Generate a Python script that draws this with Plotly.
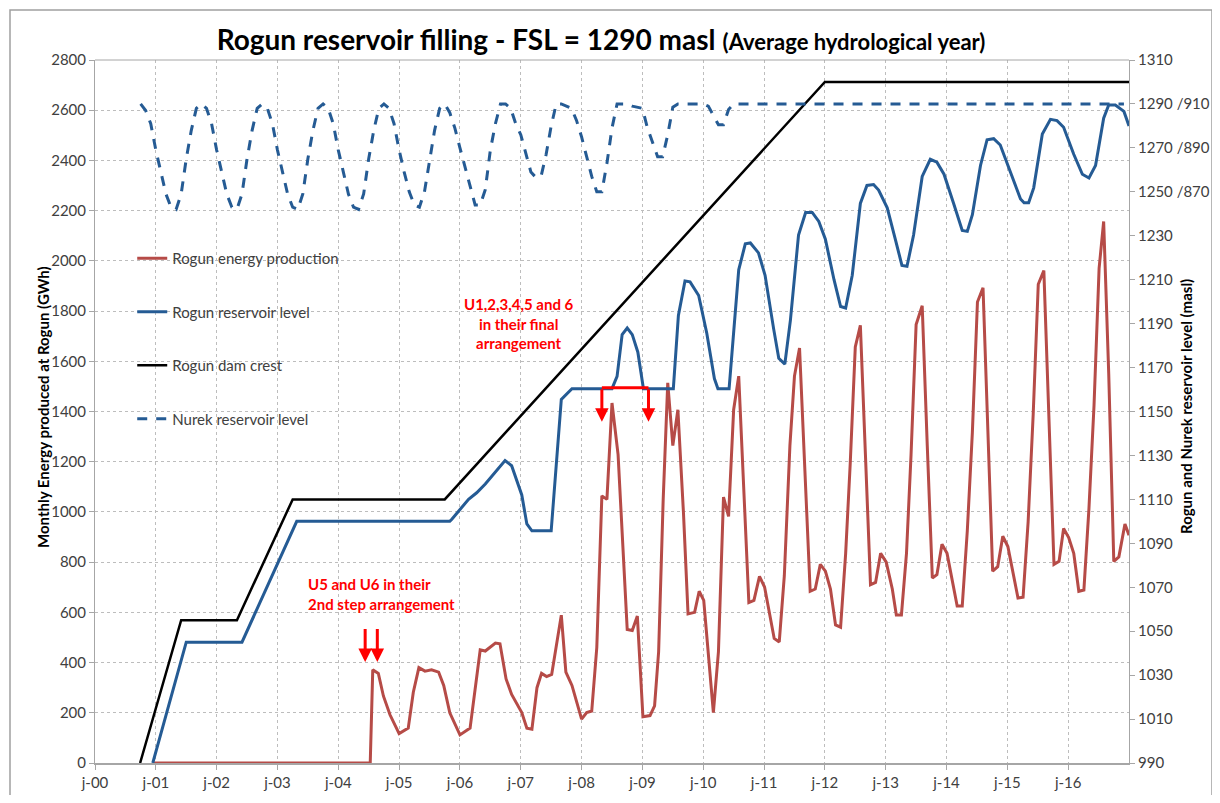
import plotly.graph_objects as go

# ---------------- data (x = months since Jan 2000) ----------------
year_ticks = list(range(0, 204, 12))
year_labels = ["j-00", "j-01", "j-02", "j-03", "j-04", "j-05", "j-06", "j-07", "j-08",
               "j-09", "j-10", "j-11", "j-12", "j-13", "j-14", "j-15", "j-16"]

# Rogun energy production (GWh / month), left axis
energy_months = [11.4, 54.3, 54.8, 55.9, 56.9, 58.2, 60, 61.8, 62.8, 63.9,
                 65.1, 66.4, 67.8, 68.8, 70, 72, 74, 76, 77, 79,
                 79.9, 81.1, 82.2, 84.2, 85.2, 86.2, 87.2, 88.1, 89.1, 90.1,
                 92, 92.9, 94.1, 96, 97, 98, 99, 100, 101, 102,
                 103.2, 105, 106, 107, 108.1, 109.5, 110.4, 111.2, 112.1, 113,
                 114, 115, 116.1, 117, 118.3, 119.2, 120.1, 121, 122, 123,
                 124, 125, 126, 127, 128, 129, 130, 131.1, 132.1, 134,
                 135, 136, 137.1, 138, 139, 140, 141.1, 142.1, 143.1, 144.1,
                 145.1, 146.1, 147.1, 148.1, 149, 150, 151, 152, 153, 154,
                 155, 156.1, 157.3, 158.1, 159.1, 160.1, 161, 162, 163.2, 164.2,
                 165.2, 166.1, 167.1, 168.1, 169.1, 170.1, 171.1, 172.1, 173.1, 174.1,
                 175.2, 176.1, 177.1, 178.1, 179.1, 180.1, 181.1, 182.1, 183.1, 184.1,
                 185.1, 186.1, 187.2, 188.2, 189.2, 190.2, 191.1, 192.1, 193.1, 194.1,
                 195.1, 196.1, 197.1, 198.1, 199, 200, 201, 202, 203.2, 204]
energy_gwh = [0, 0, 371, 357, 267, 192, 117, 139, 282, 380,
              366, 371, 362, 309, 200, 112, 139, 451, 446, 478,
              475, 335, 273, 201, 139, 135, 300, 357, 344, 353,
              589, 362, 309, 175, 201, 207, 460, 1064, 1050, 1434,
              1228, 532, 528, 585, 184, 189, 228, 443, 1050, 1514,
              1264, 1407, 996, 594, 600, 684, 648, 443, 201, 443,
              1059, 982, 1407, 1541, 1068, 639, 648, 743, 701, 496,
              482, 746, 1264, 1541, 1653, 1193, 684, 693, 791, 764,
              693, 550, 541, 835, 1193, 1657, 1743, 1228, 710, 719,
              835, 800, 693, 589, 589, 835, 1228, 1746, 1821, 1264,
              737, 750, 871, 835, 728, 625, 625, 925, 1318, 1836,
              1893, 1336, 764, 782, 903, 862, 755, 657, 660, 960,
              1389, 1907, 1961, 1371, 791, 803, 934, 898, 835, 684,
              689, 1014, 1425, 1970, 2157, 1550, 803, 821, 952, 907]

# Rogun reservoir level (masl), right axis
rogun_months = [11.4, 18, 29, 39.8, 70, 70.4, 73.7, 75.3, 77, 80.9,
                82.2, 84.2, 85.2, 86.2, 90, 92, 94.1, 102, 103, 104,
                105, 106, 107.1, 108.2, 114.1, 115.1, 116.4, 117.4, 119.1, 120.7,
                122.2, 122.9, 125.1, 126.3, 127, 128.3, 129.3, 130.9, 132.2, 133.9,
                134.9, 136.1, 137.2, 138.8, 140.2, 141.5, 142.8, 144.1, 145.8, 147.1,
                148.1, 149.4, 151, 152.3, 153.6, 154.6, 156.3, 157.9, 159.2, 160.2,
                161.5, 163.2, 164.8, 166.1, 167.5, 169.4, 171.1, 172.1, 173.1, 174.7,
                176, 177.3, 178.6, 180.6, 182.6, 183.3, 184.2, 185.2, 186.9, 188.5,
                189.8, 191.1, 193.1, 194.8, 196.1, 197.4, 199, 200, 201.3, 203, 204]
rogun_level = [990, 1045, 1045, 1100, 1100, 1101, 1110, 1113, 1117, 1127.7,
               1125.3, 1112, 1098.8, 1095.7, 1095.7, 1155.5, 1160.4, 1160.4, 1166, 1185,
               1188, 1185, 1177, 1160.4, 1160.4, 1193.7, 1209.4, 1209, 1202.8, 1185.6,
               1165, 1160.4, 1160.4, 1195.7, 1214.5, 1226.3, 1226.7, 1222.2, 1212, 1187.5,
               1174.2, 1171.6, 1191.6, 1230.3, 1240.6, 1240.6, 1236.5, 1228.4, 1210, 1197.8,
               1197.1, 1212, 1244.7, 1252.9, 1253.3, 1250.8, 1242.7, 1228.4, 1216.5, 1216.1,
               1230.3, 1257, 1264.8, 1263.5, 1258, 1244.7, 1232.4, 1232, 1239.6, 1262,
               1273.7, 1274.2, 1271.3, 1259, 1246.7, 1245, 1245, 1251.8, 1276.3, 1283,
               1282.4, 1279.4, 1267.1, 1258, 1256.3, 1262, 1283.5, 1289.5, 1289.5, 1286.6, 1280]

# Rogun dam crest (masl), right axis
crest_months = [8.9, 17, 28, 39, 69, 144, 204]
crest_level = [990, 1055, 1055, 1110, 1110, 1300, 1300]

# Nurek reservoir level (Nurek masl, monthly from Oct 2000)
nurek_start_month = 9
nurek_level = (
    [910, 907, 901] +
    [889, 879, 869, 863, 862, 869, 885, 898, 908, 910, 908, 901] +      # 2001
    [889, 879, 869, 863, 862, 869, 885, 898, 908, 910, 908, 901] +      # 2002
    [889, 879, 869, 863, 862, 869, 885, 898, 908, 910, 908, 901] +      # 2003
    [889, 879, 869, 863, 862, 869, 885, 898, 908, 910, 908, 901] +      # 2004
    [889, 879, 870, 864, 863, 870, 885, 898, 908, 910, 906, 899] +      # 2005
    [890, 881, 873, 864, 864, 871, 889, 901, 910, 910, 908, 901] +      # 2006
    [896, 888, 879, 876.5, 877, 887, 900, 910, 910, 909, 908, 902.5] +  # 2007
    [895, 886, 877, 870, 870, 883, 899, 910, 910, 910, 909, 908.5] +    # 2008
    [908, 899, 892, 886, 886, 896, 908.5, 910, 910, 910, 910, 910] +    # 2009
    [910, 909, 904.5, 900.5, 900.5, 907.5, 910, 910, 910, 910, 910, 910] +  # 2010
    [910] * 12 + [910] * 12 + [910] * 12 + [910] * 12 + [910] * 12 + [910] * 12  # 2011-2016
)
nurek_months = list(range(nurek_start_month, nurek_start_month + len(nurek_level)))

right_ticks = list(range(990, 1311, 20))
right_labels = ["990", "1010", "1030", "1050", "1070", "1090", "1110", "1130", "1150",
                "1170", "1190", "1210", "1230", "1250 /870", "1270 /890", "1290 /910", "1310"]

# ---------------- styling ----------------
RED = "#B64B47"
BLUE = "#255B94"
FONT = "Lato"
TXT = "#404040"
GRID = "#BDBDBD"

# the page body adds an 8px margin: figure is 1204x787 so the page fits 1220x803
FIG_W, FIG_H = 1204, 787
PLOT_L, PLOT_T, PLOT_W, PLOT_H = 95, 60, 1034, 703   # screen pixels of plot area


def px_to_paper(xs, ys):
    return (xs - PLOT_L) / PLOT_W, (PLOT_T + PLOT_H - ys) / PLOT_H


fig = go.Figure()
fig.add_trace(go.Scatter(x=energy_months, y=energy_gwh, mode="lines", name="Rogun energy production",
                         line=dict(color=RED, width=3), legendgroup="a", yaxis="y"))
fig.add_trace(go.Scatter(x=rogun_months, y=rogun_level, mode="lines", name="Rogun reservoir level",
                         line=dict(color=BLUE, width=3), legendgroup="b", yaxis="y2"))
fig.add_trace(go.Scatter(x=crest_months, y=crest_level, mode="lines", name="Rogun dam crest",
                         line=dict(color="#000000", width=2.5), legendgroup="c", yaxis="y2"))
fig.add_trace(go.Scatter(x=nurek_months, y=nurek_level, mode="lines", name="Nurek reservoir level",
                         line=dict(color=BLUE, width=3, dash="10px,9px"), legendgroup="d", yaxis="y3"))

lx, ly = px_to_paper(32, 407)
rx, ry = px_to_paper(1197, 407)
annotations = [
    dict(text="U1,2,3,4,5 and 6<br>in their final<br>arrangement", x=83.7, y=1752, xref="x", yref="y",
         showarrow=False, font=dict(family=FONT, size=15, color="#FF0000", weight="bold"), align="center"),
    dict(text="U5 and U6 in their<br>2nd step arrangement", x=41.6, y=673, xref="x", yref="y",
         showarrow=False, xanchor="left", font=dict(family=FONT, size=15, color="#FF0000", weight="bold"),
         align="left"),
    dict(text="<b>Monthly Energy produced at Rogun (GWh)</b>", x=lx, y=ly, xref="paper", yref="paper",
         showarrow=False, textangle=-90, font=dict(family=FONT, size=15, color="#000000")),
    dict(text="<b>Rogun and Nurek reservoir level (masl)</b>", x=rx, y=ry, xref="paper", yref="paper",
         showarrow=False, textangle=-90, font=dict(family=FONT, size=15, color="#000000")),
]

# small red arrows
for xa in (53.3, 55.7):
    annotations.append(dict(x=xa, y=402, ax=xa, ay=540, xref="x", yref="y", axref="x", ayref="y",
                            text="", showarrow=True, arrowhead=2, arrowsize=0.9, arrowwidth=3,
                            arrowcolor="#FF0000"))
for xa in (100, 109.2):
    annotations.append(dict(x=xa, y=1359, ax=xa, ay=1495, xref="x", yref="y", axref="x", ayref="y",
                            text="", showarrow=True, arrowhead=2, arrowsize=0.9, arrowwidth=3,
                            arrowcolor="#FF0000"))

bx0, by0 = px_to_paper(10, 797)
bx1, by1 = px_to_paper(1212, 10)
shapes = [
    dict(type="line", xref="x", yref="y", x0=100, x1=109.2, y0=1495, y1=1495,
         line=dict(color="#FF0000", width=3)),
    dict(type="rect", xref="paper", yref="paper", x0=bx0, x1=bx1, y0=by0, y1=by1,
         line=dict(color="#A0A0A0", width=1.5), layer="below"),
    dict(type="line", xref="paper", yref="paper", x0=0, x1=1, y0=1, y1=1,
         line=dict(color="#A6A6A6", width=1)),
]

fig.update_layout(
    width=FIG_W, height=FIG_H,
    margin=dict(l=PLOT_L - 8, r=FIG_W - (PLOT_L - 8) - PLOT_W, t=PLOT_T - 8,
                b=FIG_H - (PLOT_T - 8) - PLOT_H, autoexpand=False),
    paper_bgcolor="white", plot_bgcolor="white",
    font=dict(family=FONT, size=15, color=TXT),
    title=dict(
        text="<b>Rogun reservoir filling - FSL = 1290 masl</b> <span style='font-size:22px'><b>(Average hydrological year)</b></span>",
        x=(601 - 8) / FIG_W, xref="container", xanchor="center", y=1 - (40 - 8) / FIG_H,
        yref="container", yanchor="middle",
        font=dict(family=FONT, size=28, color="#000000")),
    showlegend=True,
    legend=dict(x=0.036, y=0.741, xanchor="left", yanchor="top", bgcolor="rgba(0,0,0,0)",
                font=dict(family=FONT, size=15, color=TXT), tracegroupgap=31, traceorder="grouped"),
    xaxis=dict(range=[0, 204], tickvals=year_ticks, ticktext=year_labels, showgrid=True,
               gridcolor=GRID, griddash="3px,3px", gridwidth=1, zeroline=False,
               showline=True, linecolor="#A6A6A6", linewidth=2, mirror=False, automargin=False,
               ticks="outside", ticklen=5, tickcolor="#A6A6A6",
               tickfont=dict(family=FONT, size=15, color=TXT)),
    yaxis=dict(range=[0, 2800], dtick=200, tick0=0, showgrid=True, gridcolor=GRID, griddash="3px,3px",
               zeroline=False, showline=True, linecolor="#A6A6A6", linewidth=1, automargin=False,
               ticks="outside", ticklen=5, tickcolor="#A6A6A6",
               tickfont=dict(family=FONT, size=15, color=TXT)),
    yaxis2=dict(range=[990, 1310], tickvals=right_ticks, ticktext=right_labels, overlaying="y",
                side="right", showgrid=False, zeroline=False, showline=True, linecolor="#A6A6A6",
                linewidth=1, ticks="outside", ticklen=5, tickcolor="#A6A6A6", automargin=False,
                tickfont=dict(family=FONT, size=15, color=TXT)),
    yaxis3=dict(range=[610, 930], overlaying="y", visible=False, automargin=False),
    annotations=annotations,
    shapes=shapes,
)

fig.write_html("out.html")
